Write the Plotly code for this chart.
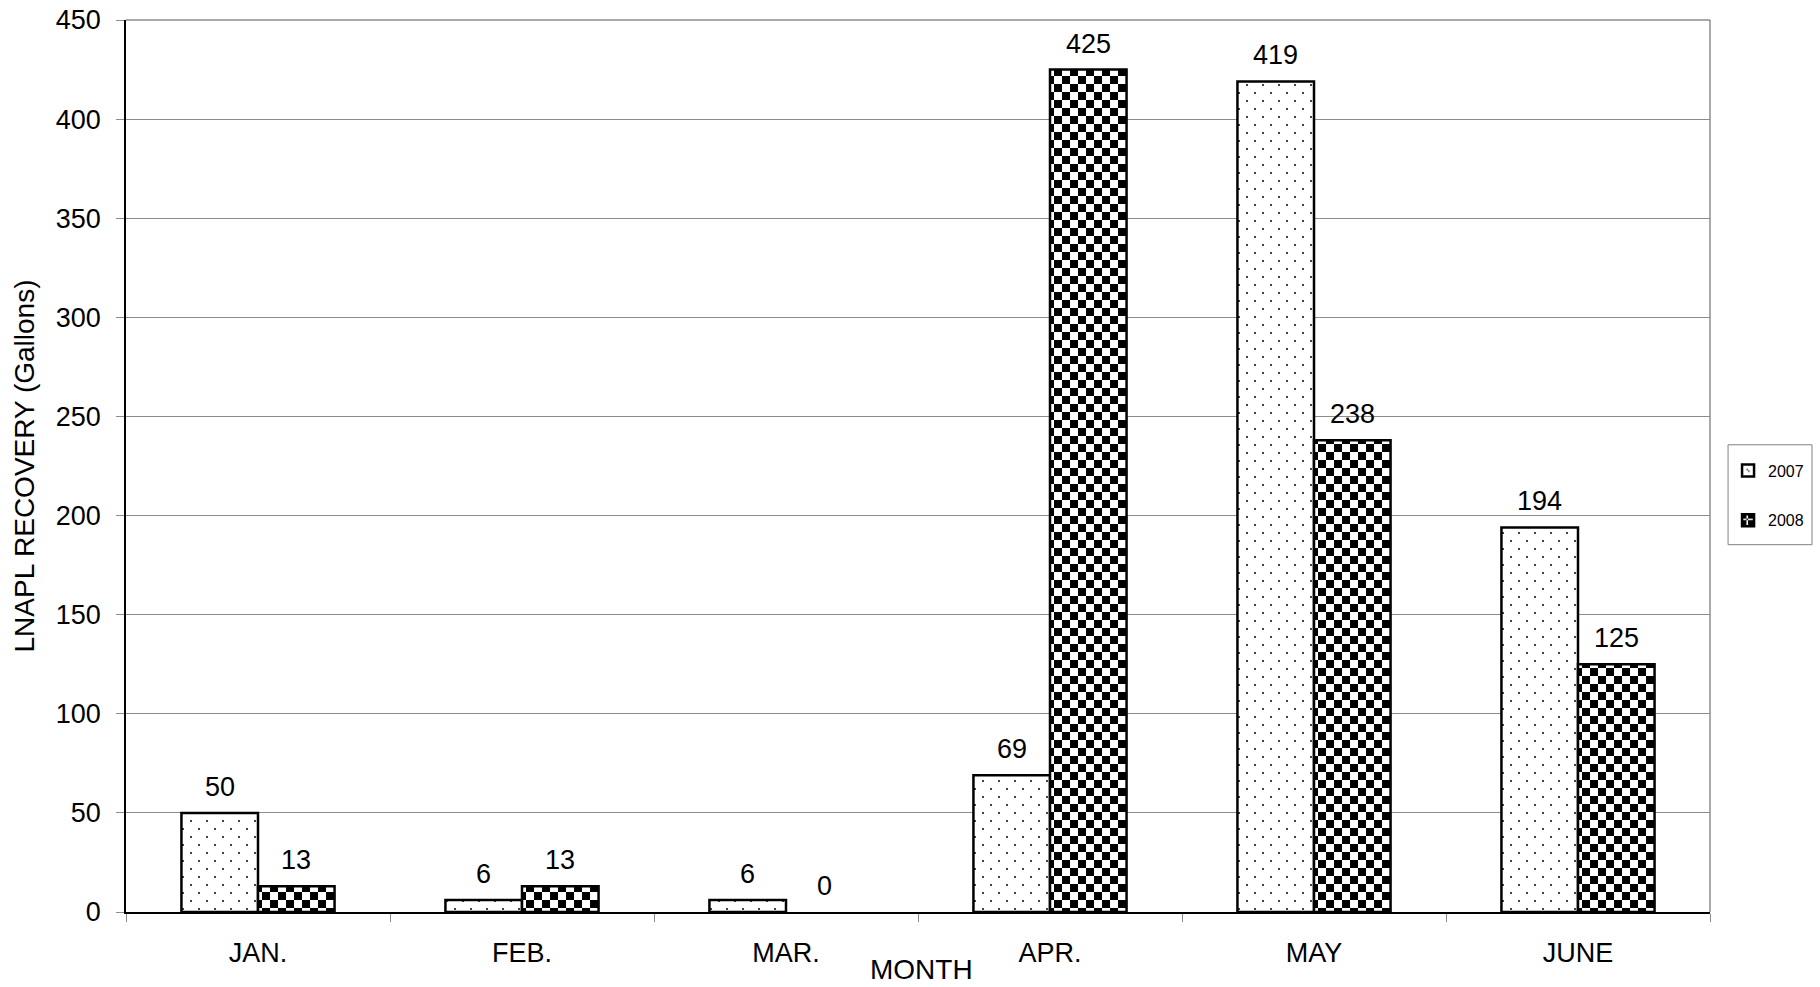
import plotly.graph_objects as go

# ---- data ----
months = ["JAN.", "FEB.", "MAR.", "APR.", "MAY", "JUNE"]
series_names = ["2007", "2008"]
y2007 = [50, 6, 6, 69, 419, 194]
y2008 = [13, 13, 0, 425, 238, 125]
y_ticks = [0, 50, 100, 150, 200, 250, 300, 350, 400, 450]

FONT = "Liberation Sans, Arial, sans-serif"
BARGAP = 0.42

dots = dict(path="M0,0h2v2h-2Z M8,8h2v2h-2Z", size=16, fgcolor="#444444",
            bgcolor="white", fillmode="replace")
checks = dict(path="M0,0H8V8H0Z M8,8H16V16H8Z", size=16, fgcolor="black",
              bgcolor="white", fillmode="replace")


def outline(vals):
    return [2.5 if v > 0 else 0 for v in vals]


fig = go.Figure()
fig.add_trace(go.Bar(x=months, y=y2007, name=series_names[0], legendgroup="a",
                     marker=dict(color="white", pattern=dots,
                                 line=dict(color="black", width=outline(y2007)))))
fig.add_trace(go.Bar(x=months, y=y2008, name=series_names[1], legendgroup="b",
                     marker=dict(color="white", pattern=checks,
                                 line=dict(color="black", width=outline(y2008)))))

off = (1 - BARGAP) / 4
annotations = []
for sgn, vals in ((-1, y2007), (1, y2008)):
    for i, v in enumerate(vals):
        annotations.append(dict(x=i + sgn * off, y=v, xref="x", yref="y",
                                text=str(v), showarrow=False, yanchor="bottom",
                                yshift=9, font=dict(size=27, color="black", family=FONT)))
annotations.append(dict(x=0.5025, y=-0.065, xref="paper", yref="paper", text="MONTH",
                        showarrow=False, yanchor="middle",
                        font=dict(size=28, color="black", family=FONT)))

fig.update_layout(
    width=1820, height=987,
    margin=dict(l=126, r=110, t=20, b=75, autoexpand=False),
    paper_bgcolor="white", plot_bgcolor="white",
    font=dict(family=FONT, color="black", size=27),
    barmode="group", bargap=BARGAP, bargroupgap=0,
    showlegend=True,
    legend=dict(x=1.0114, y=0.514, xanchor="left", yanchor="top",
                borderwidth=0, bgcolor="rgba(0,0,0,0)",
                font=dict(size=16, family=FONT), tracegroupgap=26,
                itemwidth=30),
    annotations=annotations,
    shapes=[
        dict(type="line", xref="paper", yref="paper", x0=1, x1=1, y0=0, y1=1,
             line=dict(color="#8c8c8c", width=1.5)),
        dict(type="line", xref="paper", yref="paper", x0=0, x1=1, y0=1, y1=1,
             line=dict(color="#8c8c8c", width=1.5)),
        dict(type="rect", xref="paper", yref="paper", x0=1.0114, x1=1.0644,
             y0=0.4118, y1=0.5238, line=dict(color="#808080", width=1)),
    ],
)
fig.update_xaxes(showgrid=False, showline=True, linecolor="black", linewidth=1.5,
                 ticks="outside", tickson="boundaries", ticklen=8, tickcolor="#8c8c8c",
                 tickfont=dict(size=27), ticklabelstandoff=16)
fig.update_yaxes(range=[0, 450], tickvals=y_ticks, showgrid=True, gridcolor="#8c8c8c",
                 gridwidth=1, showline=True, linecolor="black", linewidth=1.5,
                 ticks="outside", ticklen=8, tickcolor="#8c8c8c",
                 tickfont=dict(size=27), ticklabelstandoff=10, zeroline=False,
                 ticklabeloverflow="allow",
                 title=dict(text="LNAPL RECOVERY (Gallons)", font=dict(size=28), standoff=13))

fig.write_html("out.html", config={"displayModeBar": False},
               post_script="document.body.style.margin='0';")
